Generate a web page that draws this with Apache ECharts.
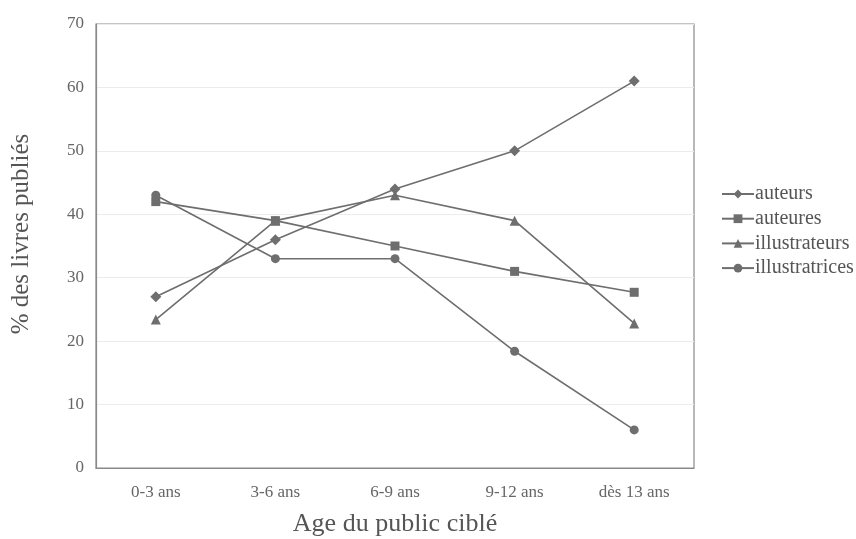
<!DOCTYPE html>
<html><head><meta charset="utf-8">
<script src="https://cdn.jsdelivr.net/npm/echarts@6/dist/echarts.min.js"></script>
<style>html,body{margin:0;padding:0;background:#fff}#c{width:856px;height:539px}</style>
</head><body><div id="c"></div>
<script>
const categories = ['0-3 ans', '3-6 ans', '6-9 ans', '9-12 ans', 'dès 13 ans'];
const auteurs = [27, 36, 44, 50, 61];
const auteures = [42, 39, 35, 31, 27.7];
const illustrateurs = [23.4, 39, 43, 39, 22.8];
const illustratrices = [43, 33, 33, 18.4, 6];
const seriesNames = ['auteurs', 'auteures', 'illustrateurs', 'illustratrices'];
const yTicks = [0, 10, 20, 30, 40, 50, 60, 70];

const font = "'Liberation Serif', 'DejaVu Serif', serif";
const lineColor = '#6e6e6e';
function mk(name, data, symbol, size) {
  return {
    name, type: 'line', data, symbol, symbolSize: size,
    lineStyle: { color: lineColor, width: 1.6 },
    itemStyle: { color: lineColor },
    emphasis: { disabled: true }, animation: false
  };
}
const chart = echarts.init(document.getElementById('c'));
chart.setOption({
  animation: false,
  textStyle: { fontFamily: font },
  grid: { left: 96, right: 162, top: 24, bottom: 71, show: true, borderColor: '#8a8a8a', borderWidth: 1.2, outerBoundsMode: 'none', containLabel: false },
  xAxis: {
    type: 'category', data: categories, boundaryGap: true,
    name: 'Age du public ciblé', nameLocation: 'middle', nameGap: 43,
    nameTextStyle: { fontFamily: font, fontSize: 26, color: '#555' },
    axisLine: { lineStyle: { color: '#8a8a8a', width: 1.2 } },
    axisTick: { show: false },
    axisLabel: { fontFamily: font, fontSize: 17, color: '#666', margin: 16 }
  },
  yAxis: {
    type: 'value', min: yTicks[0], max: yTicks[yTicks.length - 1], interval: 10,
    name: '% des livres publiés', nameLocation: 'middle', nameGap: 62,
    nameTextStyle: { fontFamily: font, fontSize: 25, color: '#555', padding: [0, 0, 0, 24] },
    axisLine: { show: true, lineStyle: { color: '#8a8a8a', width: 1.2 } },
    axisTick: { show: false },
    axisLabel: { fontFamily: font, fontSize: 17, color: '#666', margin: 12 },
    splitLine: { lineStyle: { color: '#ececec', width: 1 } }
  },
  legend: {
    orient: 'vertical', left: 716, top: 179, itemGap: 4.7,
    itemWidth: 32, itemHeight: 11,
    data: seriesNames,
    textStyle: { fontFamily: font, fontSize: 20, lineHeight: 20, color: '#555', padding: [0, 0, 0, -4] }
  },
  series: [
    mk(seriesNames[0], auteurs, 'diamond', 11),
    mk(seriesNames[1], auteures, 'rect', 9),
    mk(seriesNames[2], illustrateurs, 'triangle', 10),
    mk(seriesNames[3], illustratrices, 'circle', 9)
  ]
});
</script></body></html>
